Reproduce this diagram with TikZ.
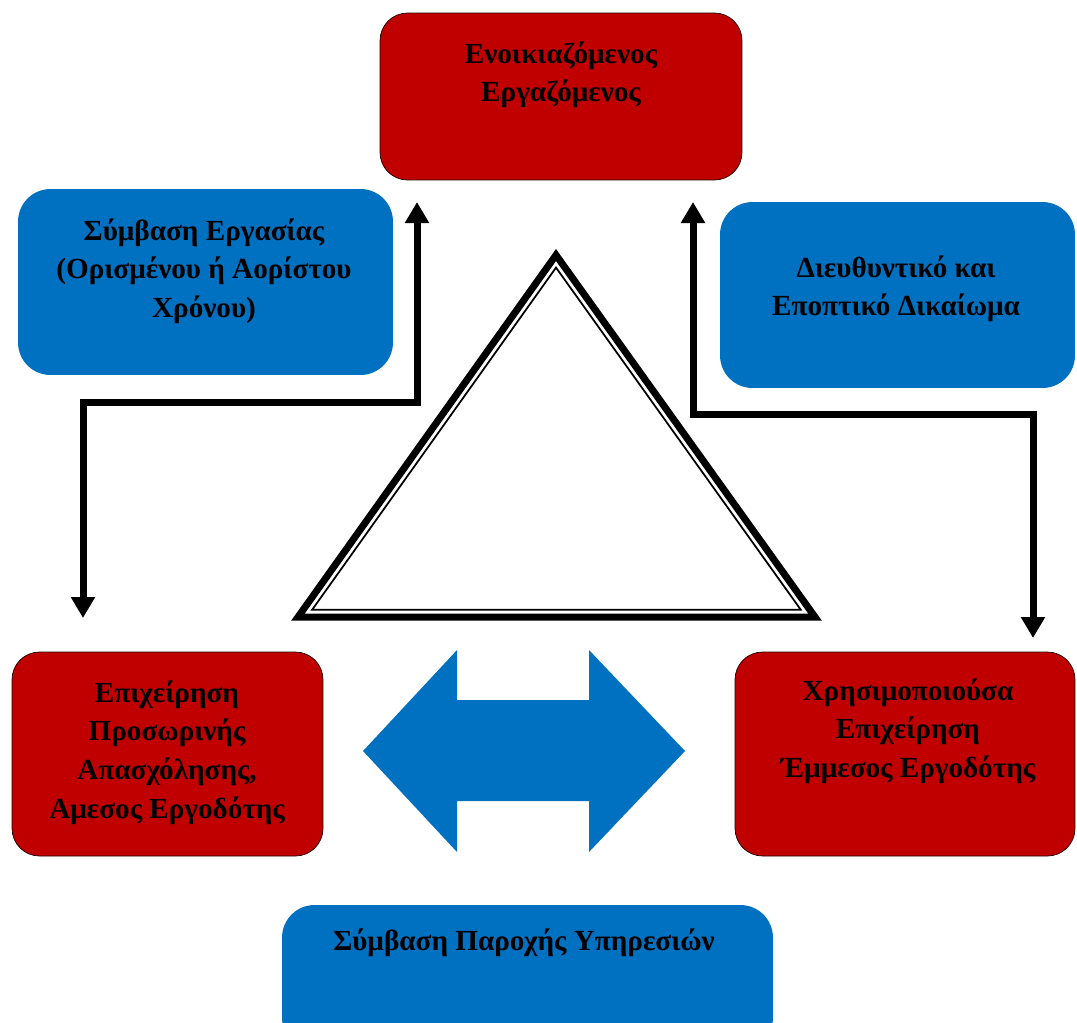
\documentclass[tikz,border=0pt]{standalone}
\usepackage{fontspec}
\setmainfont{Liberation Serif}
\usetikzlibrary{arrows.meta}

\definecolor{leasered}{HTML}{C00000}
\definecolor{leaseblue}{HTML}{0070C0}

\tikzset{
  redbox/.style={fill=leasered, draw=black!85!leasered, thin,
    rounded corners=0.55cm},
  bluebox/.style={fill=leaseblue, rounded corners=0.65cm},
  boxtext/.style={anchor=north, align=center, inner sep=0pt,
    font=\fontsize{16.6}{22}\selectfont\bfseries},
  linkarrow/.style={line width=0.14cm,
    {Triangle[length=0.42cm, width=0.46cm]}-{Triangle[length=0.42cm, width=0.46cm]}}
}

\begin{document}
\begin{tikzpicture}[x=0.02cm, y=-0.02cm]
    \path [use as bounding box]
      (0, 0) rectangle (1077, 1022);

    % the five parties and the two contracts
    \node[redbox, minimum width=7.24cm, minimum height=3.34cm]
      (worker) at (561, 96.5) {};
    \node[bluebox, minimum width=7.5cm, minimum height=3.72cm]
      (contract) at (205.5, 282) {};
    \node[bluebox, minimum width=7.1cm, minimum height=3.72cm]
      (direction) at (897.5, 295) {};
    \node[redbox, minimum width=6.22cm, minimum height=4.08cm]
      (agency) at (167.5, 754) {};
    \node[redbox, minimum width=6.8cm, minimum height=4.08cm]
      (user) at (905, 754) {};
    \node[bluebox, minimum width=9.82cm, minimum height=2.9cm]
      (service) at (527.5, 977.5) {};

    \node[boxtext] (workertxt) at (561, 41)
      {Ενοικιαζόμενος\\Εργαζόμενος};
    \node[boxtext] (contracttxt) at (204, 218)
      {Σύμβαση Εργασίας\\(Ορισμένου ή Αορίστου\\Χρόνου)};
    \node[boxtext] (directiontxt) at (896, 255)
      {Διευθυντικό και\\Εποπτικό Δικαίωμα};
    \node[boxtext] (agencytxt) at (167, 680)
      {Επιχείρηση\\Προσωρινής\\Απασχόλησης,\\Αμεσος Εργοδότης};
    \node[boxtext] (usertxt) at (908, 678)
      {Χρησιμοποιούσα\\Επιχείρηση\\Έμμεσος Εργοδότης};
    \node[boxtext] (servicetxt) at (524, 928)
      {Σύμβαση Παροχής Υπηρεσιών};

    % triangle in the middle
    \newcommand{\trisides}{(556, 255) -- (815, 617) -- (298, 617) -- cycle}
    \path[draw=black, line width=0.14cm] \trisides;
    \path[draw=black, line width=0.035cm,
      scale around={0.945:(556, 484)}] \trisides;

    % two-way arrow between the two firms
    \path[fill=leaseblue]
      (363, 751) -- (457, 650) -- (457, 700) -- (589, 700)
      -- (589, 650) -- (685, 751) -- (589, 852) -- (589, 801)
      -- (457, 801) -- (457, 852) -- cycle;

    % links
    \coordinate (agencytip) at (83, 618);
    \coordinate (workerleft) at (417, 202);
    \coordinate (workerright) at (693, 202);
    \coordinate (usertip) at (1033, 638);
    \draw[linkarrow] (agencytip) -- ++(0, -216) -| (workerleft);
    \draw[linkarrow] (workerright) -- ++(0, 212) -| (usertip);
  \end{tikzpicture}
\end{document}
